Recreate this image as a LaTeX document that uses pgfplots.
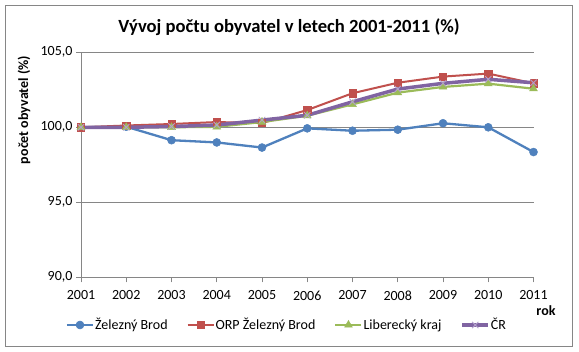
\documentclass[border=0pt]{standalone}
\usepackage{pgfplots}
\pgfplotsset{compat=1.18}
\usepackage{fontspec}
\setmainfont{Carlito}
\definecolor{cBlue}{RGB}{79,129,189}
\definecolor{cRed}{RGB}{192,80,77}
\definecolor{cGreen}{RGB}{155,187,89}
\definecolor{cPurple}{RGB}{128,100,162}
\definecolor{cPurpleL}{RGB}{180,160,205}
\definecolor{cGrid}{RGB}{134,134,134}
\begin{document}
\begin{tikzpicture}[x=1pt,y=1pt]
\useasboundingbox (0,0) rectangle (579,352);
\fill[white] (0,0) rectangle (579,352);
\draw[cGrid, line width=0.8pt] (5,6) rectangle (572,347);
\node[font=\fontsize{18.6}{21}\selectfont\bfseries] at (289,325) {Vývoj počtu obyvatel v letech 2001-2011 (\%)};
\node[font=\fontsize{14}{16}\selectfont\bfseries, rotate=90] at (24,242) {počet obyvatel (\%)};
\node[font=\fontsize{14}{16}\selectfont\bfseries] at (546,41) {rok};
\begin{axis}[
  at={(81pt,74.7pt)}, anchor=south west,
  scale only axis, width=452.5pt, height=225pt,
  xmin=2001, xmax=2011, ymin=90, ymax=105,
  xtick={2001,2002,...,2011},
  ytick={90,95,100,105},
  x tick label style={yshift=-5pt, /pgf/number format/1000 sep={}},
  y tick label style={/pgf/number format/.cd, fixed, fixed zerofill, precision=1, use comma},
  /pgf/number format/assume math mode=true,
  tick label style={font=\fontsize{14}{16}\selectfont},
  axis lines*=left,
  axis line style={cGrid, line width=0.8pt},
  tick style={cGrid, line width=0.8pt},
  tick align=outside, major tick length=5pt,
  ymajorgrids, grid style={cGrid, line width=0.8pt},
  clip=false,
  legend columns=4,
  legend style={at={(0.454,-0.212)}, anchor=center, draw=none, fill=none,
    font=\fontsize{14}{16}\selectfont,
    /tikz/every even column/.append style={column sep=18pt},
    nodes={inner sep=1pt}},
  legend image code/.code={\draw[mark repeat=2,mark phase=2,#1] plot coordinates {(0pt,0pt) (13pt,0pt) (26pt,0pt)};},
]
\addplot[cBlue, line width=2.3pt, mark=*, mark size=4pt, mark options={solid, fill=cBlue, draw=cBlue, line width=0.5pt}] coordinates {
(2001,100) (2002,100.04) (2003,99.14) (2004,98.99) (2005,98.65) (2006,99.93) (2007,99.77) (2008,99.84) (2009,100.27) (2010,100.0) (2011,98.35)};
\addlegendentry{Železný Brod}
\addplot[cRed, line width=2pt, mark=square*, mark size=3.6pt, mark options={solid, fill=cRed, draw=cRed, line width=0.5pt}] coordinates {
(2001,100) (2002,100.12) (2003,100.22) (2004,100.35) (2005,100.28) (2006,101.15) (2007,102.27) (2008,102.97) (2009,103.38) (2010,103.58) (2011,102.93)};
\addlegendentry{ORP Železný Brod}
\addplot[cGreen, line width=2.2pt, mark=triangle*, mark size=4.5pt, mark options={solid, fill=cGreen, draw=cGreen, line width=0.5pt}] coordinates {
(2001,100) (2002,100.0) (2003,100.0) (2004,100.03) (2005,100.35) (2006,100.77) (2007,101.53) (2008,102.31) (2009,102.69) (2010,102.91) (2011,102.57)};
\addlegendentry{Liberecký kraj}
\addplot[cPurple, line width=3.5pt, mark=x, mark size=4.5pt, mark options={solid, draw=cPurpleL, line width=0.8pt}] coordinates {
(2001,100) (2002,100.0) (2003,100.05) (2004,100.15) (2005,100.48) (2006,100.8) (2007,101.7) (2008,102.55) (2009,102.93) (2010,103.2) (2011,102.97)};
\addlegendentry{ČR}
\end{axis}
\end{tikzpicture}
\end{document}
